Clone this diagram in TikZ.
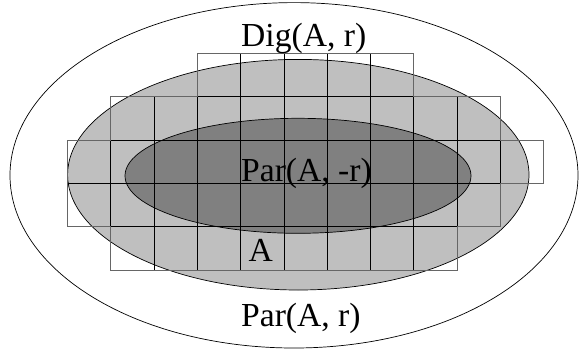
\documentclass[tikz,border=0pt]{standalone}
\usepackage{fontspec}
\setmainfont{Liberation Serif}
\definecolor{midgray}{gray}{0.75}
\definecolor{darkgray}{gray}{0.5}
\begin{document}
\begin{tikzpicture}[x=1pt,y=-1pt,
  gridline/.style={draw=black,line width=0.9pt},
  outline/.style={draw=black!60,line width=0.9pt},
  ell/.style={draw=black,line width=0.7pt},
  lbl/.style={anchor=base west,inner sep=0pt,font=\fontsize{33.6}{40}\selectfont}]
\useasboundingbox (0,0) rectangle (579,354);
% ellipses
\draw[ell,fill=white] (294,175.3) ellipse [x radius=284,y radius=172.7];
\draw[ell,fill=midgray] (298.3,174.7) ellipse [x radius=230.7,y radius=115.3];
\draw[ell,fill=darkgray] (298,175.8) ellipse [x radius=173,y radius=57.5];
% grid
\def\cx#1{67.3+43.33*#1}
\def\cy#1{53.3+43.33*#1}
\foreach \r/\a/\b in {0/3/7,1/1/9,2/0/10,3/0/9,4/1/8}{
  \foreach \c in {\a,...,\b}{
    \draw[gridline] ({67.3+43.33*\c},{53.3+43.33*\r}) rectangle ({67.3+43.33*(\c+1)},{53.3+43.33*(\r+1)});
  }
}
\draw[outline] ({\cx{3}},{\cy{0}}) -- ({\cx{8}},{\cy{0}}) -- ({\cx{8}},{\cy{1}}) -- ({\cx{10}},{\cy{1}})
  -- ({\cx{10}},{\cy{2}}) -- ({\cx{11}},{\cy{2}}) -- ({\cx{11}},{\cy{3}}) -- ({\cx{10}},{\cy{3}})
  -- ({\cx{10}},{\cy{4}}) -- ({\cx{9}},{\cy{4}}) -- ({\cx{9}},{\cy{5}}) -- ({\cx{1}},{\cy{5}})
  -- ({\cx{1}},{\cy{4}}) -- ({\cx{0}},{\cy{4}}) -- ({\cx{0}},{\cy{2}}) -- ({\cx{1}},{\cy{2}})
  -- ({\cx{1}},{\cy{1}}) -- ({\cx{3}},{\cy{1}}) -- cycle;
% labels
\node[lbl] (dig) at (241,46.7) {Dig(A, r)};
\node[lbl] (parm) at (241,181.7) {Par(A, -r)};
\node[lbl] (a) at (248.5,261.7) {A};
\node[lbl] (parr) at (241,326.7) {Par(A, r)};
\end{tikzpicture}
\end{document}
